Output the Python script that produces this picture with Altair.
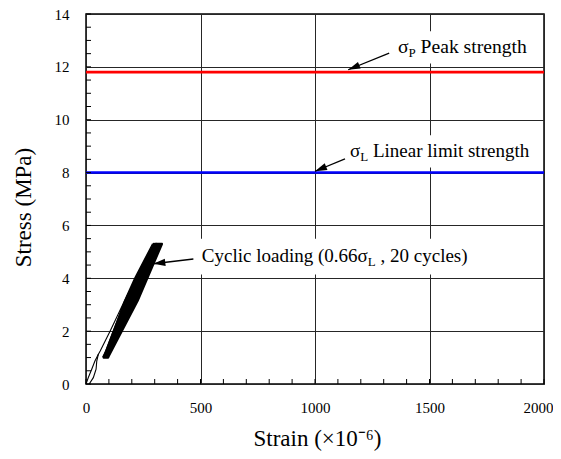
import math
import altair as alt
import pandas as pd

# ---------------- data ----------------
x_major = [0, 500, 1000, 1500, 2000]
y_major = [0, 2, 4, 6, 8, 10, 12, 14]
x_minor = [0, 100, 200, 300, 400, 500, 600, 700, 800, 900, 1000, 1100, 1200,
           1300, 1400, 1500, 1600, 1700, 1800, 1900, 2000]
y_minor = [0, 0.5, 1, 1.5, 2, 2.5, 3, 3.5, 4, 4.5, 5, 5.5, 6, 6.5, 7, 7.5,
           8, 8.5, 9, 9.5, 10, 10.5, 11, 11.5, 12, 12.5, 13, 13.5, 14]

strength_names = ["Peak strength", "Linear limit strength"]
strength_values = [11.8, 8.0]
strength_colors = ["#ff0000", "#0000ff"]

# initial loading (thin line) and first small loop branch
init_strain = [0, 10, 25, 39, 54, 62, 105, 160, 212, 290, 170, 75]
init_stress = [0, 0.24, 0.56, 0.87, 1.13, 1.25, 2.0, 3.0, 4.0, 5.3, 3.15, 1.0]
branch_strain = [14, 32, 44, 47, 54]
branch_stress = [0, 0.24, 0.56, 0.87, 1.13]

# 20 load / unload cycles between 1.0 MPa and 0.66 sigma_L
cycle_stress_min = 1.0
cycle_stress_mid = 3.15
cycle_stress_max = 5.3
cycle_lo = [75, 78, 80, 82, 83, 84, 85, 86, 87, 88, 88, 89, 90, 90, 91, 92, 92, 93, 94, 95]
cycle_load_mid = [198, 202, 205, 208, 209, 211, 212, 214, 215, 216, 217, 218, 219, 219,
                  220, 221, 222, 223, 224, 225]
cycle_hi = [296, 302, 306, 309, 311, 313, 315, 317, 318, 319, 321, 322, 323, 324, 325,
            326, 327, 328, 329, 331]
cycle_unload_mid = [172, 176, 179, 181, 183, 184, 186, 187, 188, 189, 190, 191, 192, 193,
                    194, 194, 195, 196, 197, 198]
cycle_end = [78, 80, 82, 83, 84, 85, 86, 87, 88, 88, 89, 90, 90, 91, 92, 92, 93, 94, 95, 96]

# annotations
ann_left_x = [1362, 1153, 506]
ann_base_y = [12.53, 8.58, 4.61]
ann_font = [19.6, 19, 19]
ann_pieces = [
    [("σ", "main"), ("P", "sub"), (" Peak strength", "main")],
    [("σ", "main"), ("L", "sub"), (" Linear limit strength", "main")],
    [("Cyclic loading (0.66σ", "main"), ("L", "sub"), (" , 20 cycles)", "main")],
]
arrow_start_x = [1324, 1131, 469]
arrow_start_y = [12.52, 8.52, 4.73]
arrow_tip_x = [1145, 1000, 294]
arrow_tip_y = [11.89, 8.05, 4.55]
box_x1 = [1328, 1131, 480]
box_x2 = [1987, 1987, 1703]
box_y1 = [12.13, 8.19, 4.14]
box_y2 = [13.35, 9.41, 5.50]

# ---------------- layout ----------------
W, H = 458, 370
X_MAX, Y_MAX = 2000, 14
px_x = W / X_MAX
px_y = H / Y_MAX
FONT = "Times New Roman, Liberation Serif, serif"
SUB_FS, SUB_DY = 13, 4

xs = alt.Scale(domain=[0, X_MAX], nice=False, zero=False)
ys = alt.Scale(domain=[0, Y_MAX], nice=False, zero=False)

GRID = "#262626"
LAST_X = "datum.value >= 2000"

base = alt.Chart(pd.DataFrame({"strain": [0], "stress": [0]})).mark_point(opacity=0).encode(
    x=alt.X("strain:Q", scale=xs, axis=alt.Axis(
        values=x_major, grid=True, gridColor=GRID, gridWidth=1, gridOpacity=1,
        domain=False, ticks=False, tickSize=0, labelFont=FONT, labelFontSize=15,
        labelColor="black", labelPadding=16, format="d", labelFlush=False,
        labelAlign={"condition": {"test": LAST_X, "value": "right"}, "value": "center"},
        labelOffset={"condition": {"test": LAST_X, "value": 9}, "value": 0},
        title="Strain (×10⁻⁶)", titleFont=FONT, titleFontSize=23, titleFontWeight="normal",
        titleColor="black", titleX=231, titleY=61, titleBaseline="alphabetic",
        titleAlign="center")),
    y=alt.Y("stress:Q", scale=ys, axis=alt.Axis(
        values=y_major, grid=True, gridColor=GRID, gridWidth=1, gridOpacity=1,
        domain=False, ticks=False, tickSize=0, labelFont=FONT, labelFontSize=15,
        labelColor="black", labelPadding=17, format="d", labelFlush=False,
        title="Stress (MPa)", titleFont=FONT, titleFontSize=23, titleFontWeight="normal",
        titleColor="black", titleX=-63, titleY=193, titleAngle=270,
        titleBaseline="middle", titleAlign="center")),
)

boxes = alt.Chart(pd.DataFrame({"bx1": box_x1, "bx2": box_x2, "by1": box_y1, "by2": box_y2})).mark_rect(
    fill="white").encode(
    x=alt.X("bx1:Q", scale=xs), x2="bx2:Q",
    y=alt.Y("by1:Q", scale=ys), y2="by2:Q")

strength = alt.Chart(pd.DataFrame({"name": strength_names, "sval": strength_values,
                                   "col": strength_colors})).mark_rule(strokeWidth=2.6).encode(
    y=alt.Y("sval:Q", scale=ys),
    x=alt.value(0), x2=alt.value(W),
    color=alt.Color("col:N", scale=None))

# thin initial curves
thin_rows = []
for i, (e, s) in enumerate(zip(init_strain, init_stress)):
    thin_rows.append({"e": e, "s": s, "o": i, "p": "init"})
for i, (e, s) in enumerate(zip(branch_strain, branch_stress)):
    thin_rows.append({"e": e, "s": s, "o": i, "p": "branch"})
thin = alt.Chart(pd.DataFrame(thin_rows)).mark_line(color="black", strokeWidth=1.1).encode(
    x=alt.X("e:Q", scale=xs), y=alt.Y("s:Q", scale=ys),
    order="o:Q", detail="p:N")

cyc_rows = []
k = 0
for lo, lm, hi, um, nx in zip(cycle_lo, cycle_load_mid, cycle_hi, cycle_unload_mid, cycle_end):
    for e, s in [(lo, cycle_stress_min), (lm, cycle_stress_mid), (hi, cycle_stress_max),
                 (um, cycle_stress_mid), (nx, cycle_stress_min)]:
        cyc_rows.append({"e": e, "s": s, "o": k})
        k += 1
cycles = alt.Chart(pd.DataFrame(cyc_rows)).mark_line(
    color="black", strokeWidth=2.5, strokeJoin="round").encode(
    x=alt.X("e:Q", scale=xs), y=alt.Y("s:Q", scale=ys),
    order="o:Q")

angles = []
for ax_, ay_, tx_, ty_ in zip(arrow_start_x, arrow_start_y, arrow_tip_x, arrow_tip_y):
    a = math.degrees(math.atan2(-(ty_ - ay_) * px_y, (tx_ - ax_) * px_x)) % 360
    angles.append(a)
arrow_df = pd.DataFrame({"ax": arrow_start_x, "ay": arrow_start_y,
                         "tx": arrow_tip_x, "ty": arrow_tip_y, "ang": angles})
arrow_lines = alt.Chart(arrow_df).mark_rule(color="black", strokeWidth=1.3).encode(
    x=alt.X("ax:Q", scale=xs), y=alt.Y("ay:Q", scale=ys),
    x2="tx:Q", y2="ty:Q")
arrow_heads = alt.Chart(arrow_df).mark_point(
    shape="M0,0L-2,-0.6L-2,0.6Z", size=144, filled=True, color="black",
    opacity=1, strokeWidth=0).encode(
    x=alt.X("tx:Q", scale=xs), y=alt.Y("ty:Q", scale=ys),
    angle=alt.Angle("ang:Q", scale=None))

# Times-compatible advance widths (per 1000 em)
ADV = {' ': 250, '(': 333, ')': 333, ',': 250, '.': 250, '0': 500, '2': 500, '6': 500,
       'C': 667, 'L': 611, 'P': 556, 'a': 444, 'c': 444, 'd': 500, 'e': 444, 'g': 500,
       'h': 500, 'i': 278, 'k': 500, 'l': 278, 'm': 778, 'n': 500, 'o': 500, 'r': 333,
       's': 389, 't': 278, 'y': 500, 'σ': 540}

def text_width(t, fs):
    return sum(ADV.get(c, 500) for c in t) * fs / 1000.0

text_layers = []
for lx, by, mfs, pieces in zip(ann_left_x, ann_base_y, ann_font, ann_pieces):
    off = 0.0
    for txt, kind in pieces:
        fs = mfs if kind == "main" else SUB_FS
        dy = 0 if kind == "main" else SUB_DY
        stripped = txt.lstrip(" ")
        off += text_width(txt[: len(txt) - len(stripped)], fs)
        layer = alt.Chart(pd.DataFrame({"tx": [lx], "ty": [by]})).mark_text(
            text=stripped, align="left", baseline="alphabetic", dx=off, dy=dy,
            font=FONT, fontSize=fs, color="black").encode(
            x=alt.X("tx:Q", scale=xs), y=alt.Y("ty:Q", scale=ys))
        text_layers.append(layer)
        off += text_width(stripped, fs)

yticks = alt.Chart(pd.DataFrame({"v": y_minor})).mark_rule(color="black", strokeWidth=1).encode(
    y=alt.Y("v:Q", scale=ys), x=alt.value(0), x2=alt.value(5))
xticks = alt.Chart(pd.DataFrame({"v": x_minor})).mark_rule(color="black", strokeWidth=1).encode(
    x=alt.X("v:Q", scale=xs), y=alt.value(H), y2=alt.value(H - 5))

chart = alt.layer(base, boxes, strength, thin, cycles, arrow_lines, arrow_heads,
                  *text_layers, yticks, xticks).properties(
    width=W, height=H,
    padding={"left": 78, "top": 6, "right": 9, "bottom": 67},
    autosize=alt.AutoSizeParams(type="none"),
    background="white",
).configure_view(stroke="black", strokeWidth=1.5)

chart.save("out.html", embed_options={"renderer": "svg", "actions": False})
